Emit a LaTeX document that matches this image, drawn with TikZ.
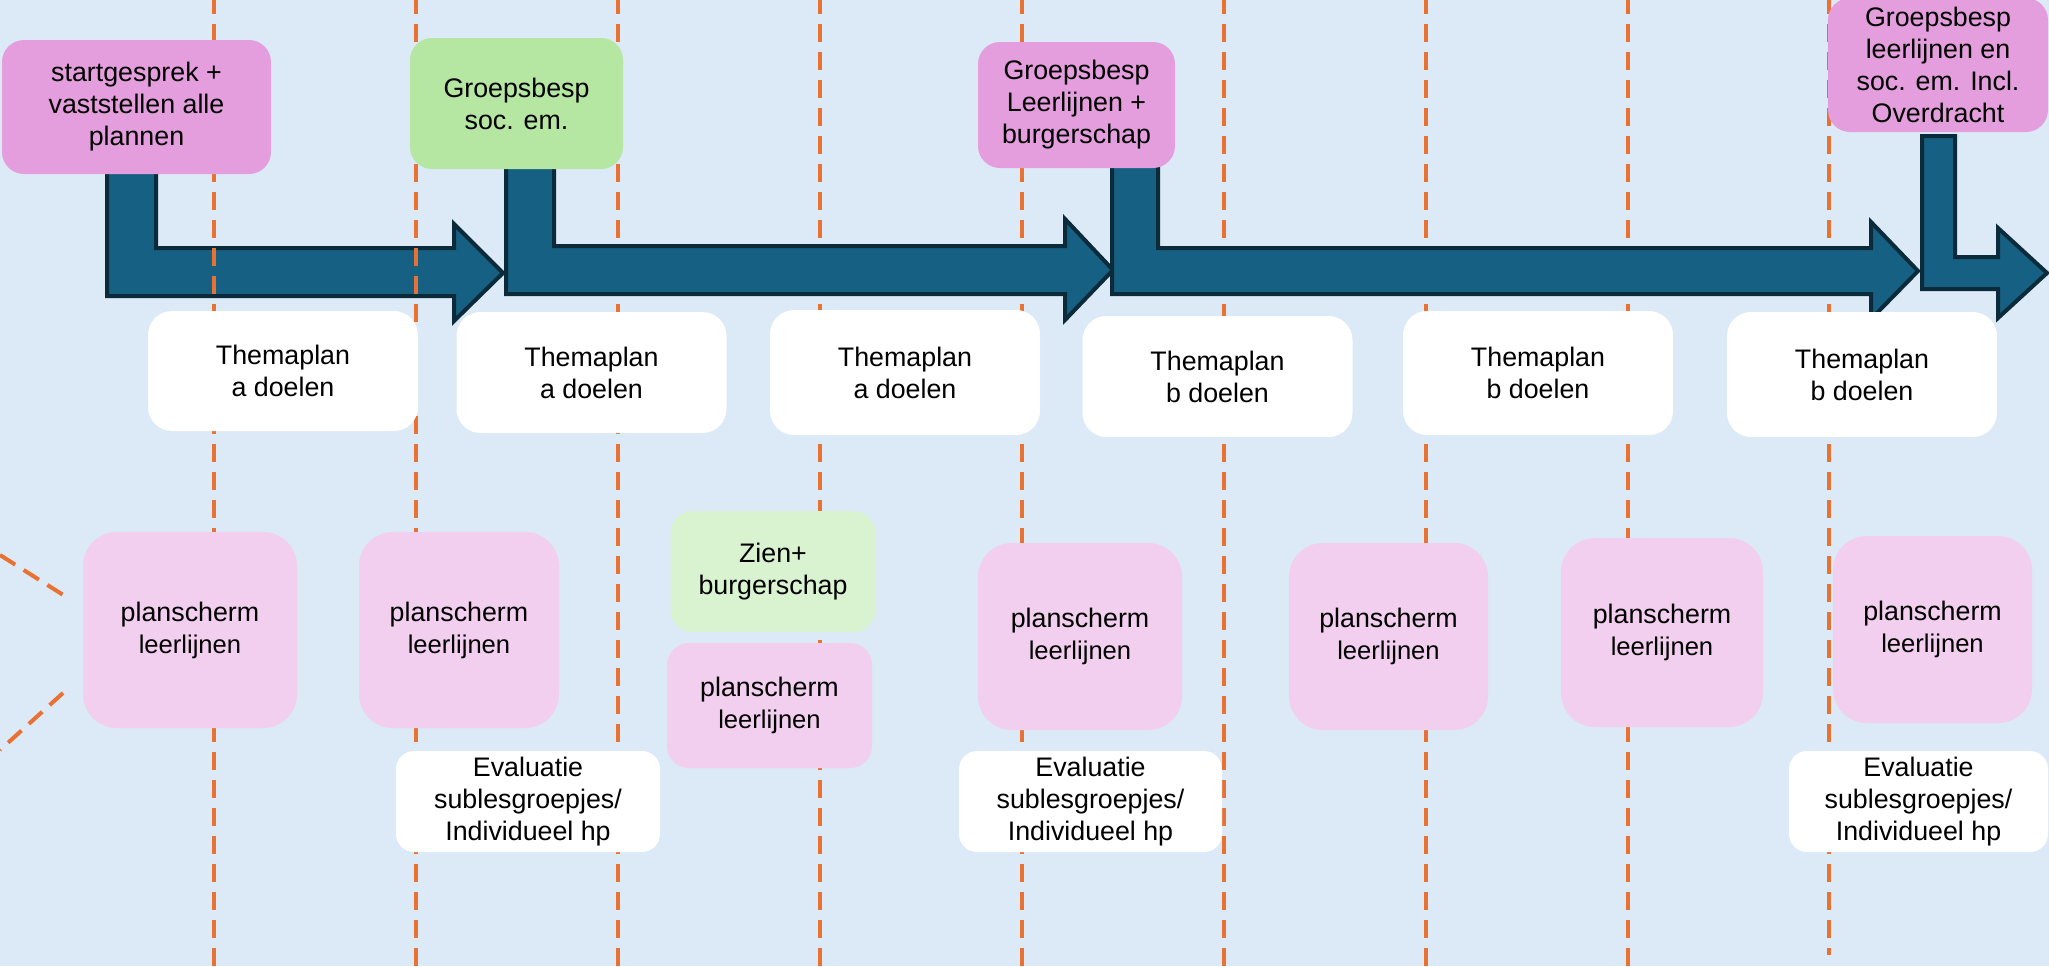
\documentclass[tikz,border=0pt]{standalone}
\usepackage{fontspec}
\setmainfont{Liberation Sans}
\definecolor{bgblue}{HTML}{DCE9F6}
\definecolor{orangeln}{HTML}{E97132}
\definecolor{arrowfill}{HTML}{166083}
\definecolor{arrowline}{HTML}{0B2A3A}
\definecolor{pinkA}{HTML}{E59EDD}
\definecolor{pinkB}{HTML}{F2CEEF}
\definecolor{greenA}{HTML}{B5E6A2}
\definecolor{greenB}{HTML}{D9F2D0}
\tikzset{
  basebox/.style={rectangle, inner sep=0pt, align=center, font=\fontsize{13.4pt}{16pt}\selectfont},
  topbox/.style={basebox, rounded corners=11pt},
  themabox/.style={basebox, fill=white, rounded corners=12pt, minimum width=135pt},
  planbox/.style={basebox, fill=pinkB, rounded corners=17pt},
  smallbox/.style={basebox, rounded corners=11pt, minimum width=102.5pt},
  evalbox/.style={basebox, fill=white, rounded corners=9pt, minimum height=50.5pt},
  vline/.style={draw=orangeln, line width=2pt, dash pattern=on 9pt off 5pt},
  blockarrow/.style={fill=arrowfill, draw=arrowline, line width=2pt, line join=miter},
}
\newcommand{\plantext}{planscherm\\{\fontsize{12.8pt}{16pt}\selectfont leerlijnen}}
\begin{document}
\begin{tikzpicture}[x=0.5pt,y=-0.5pt]
\fill[bgblue] (0,0) rectangle (2049,966);
\useasboundingbox (0,0) rectangle (2049,966);

% first bent arrow (under the dashed lines)
\draw[blockarrow] (107,170) -- (107,296) -- (454,296) -- (454,321) -- (503,273) -- (454,224) -- (454,248) -- (156,248) -- (156,170) -- cycle;

% dashed time lines
\foreach \x in {214,416,618,820,1022,1224,1426,1628}
  \draw[vline] (\x,-4) -- (\x,966);
\draw[vline] (1829,-4) -- (1829,955);
\draw[vline] (0,555) -- (68,598);
\draw[vline] (63,693) -- (0,750);

% other bent arrows
\draw[blockarrow] (506,165) -- (506,294) -- (1065,294) -- (1065,320) -- (1113,270) -- (1065,219) -- (1065,246) -- (554,246) -- (554,165) -- cycle;
\draw[blockarrow] (1112,165) -- (1112,294) -- (1871,294) -- (1871,319) -- (1918,271) -- (1871,222) -- (1871,248) -- (1158,248) -- (1158,165) -- cycle;
\draw[blockarrow] (1922,136) -- (1922,289) -- (1998,289) -- (1998,318) -- (2047,273) -- (1998,228) -- (1998,257) -- (1955,257) -- (1955,136) -- cycle;

% top boxes
\node[topbox, fill=pinkA, minimum width=134.5pt, minimum height=67pt] (start) at (136.5,107) {startgesprek +\\vaststellen alle\\plannen};
\node[topbox, fill=greenA, minimum width=106.5pt, minimum height=65.5pt] (gsoc) at (516.5,103.5) {Groepsbesp\\soc. em.};
\node[topbox, fill=pinkA, minimum width=98.5pt, minimum height=63pt] (gleer) at (1076.5,105) {Groepsbesp\\Leerlijnen +\\burgerschap};
\node[topbox, fill=pinkA, minimum width=110pt, minimum height=67pt] (gover) at (1938,65) {Groepsbesp\\leerlijnen en\\soc. em. Incl.\\Overdracht};

% themaplan boxes
\node[themabox, minimum height=60pt] (t1) at (283,371) {Themaplan\\a doelen};
\node[themabox, minimum height=60.5pt] (t2) at (591.5,372.5) {Themaplan\\a doelen};
\node[themabox, minimum height=62.5pt] (t3) at (905,372.5) {Themaplan\\a doelen};
\node[themabox, minimum height=60.5pt] (t4) at (1217.5,376.5) {Themaplan\\b doelen};
\node[themabox, minimum height=62pt] (t5) at (1538,373) {Themaplan\\b doelen};
\node[themabox, minimum height=62.5pt] (t6) at (1862,374.5) {Themaplan\\b doelen};

% planscherm boxes
\node[planbox, minimum width=107pt, minimum height=98pt] (p1) at (190,630) {\plantext};
\node[planbox, minimum width=100pt, minimum height=98pt] (p2) at (459,630) {\plantext};
\node[smallbox, fill=greenB, minimum height=60.5pt] (zien) at (773,571.5) {Zien+\\burgerschap};
\node[smallbox, fill=pinkB, minimum height=62.5pt] (p3) at (769.5,705.5) {\plantext};
\node[planbox, minimum width=102pt, minimum height=93.5pt] (p4) at (1080,636.5) {\plantext};
\node[planbox, minimum width=99.5pt, minimum height=93.5pt] (p5) at (1388.5,636.5) {\plantext};
\node[planbox, minimum width=101pt, minimum height=94.5pt] (p6) at (1662,632.5) {\plantext};
\node[planbox, minimum width=99.5pt, minimum height=93.5pt] (p7) at (1932.5,629.5) {\plantext};

% evaluatie boxes
\node[evalbox, minimum width=132pt] (e1) at (528,801.5) {Evaluatie\\sublesgroepjes/\\Individueel hp};
\node[evalbox, minimum width=131.5pt] (e2) at (1090.5,801.5) {Evaluatie\\sublesgroepjes/\\Individueel hp};
\node[evalbox, minimum width=129.5pt] (e3) at (1918.5,801.5) {Evaluatie\\sublesgroepjes/\\Individueel hp};
\end{tikzpicture}
\end{document}
